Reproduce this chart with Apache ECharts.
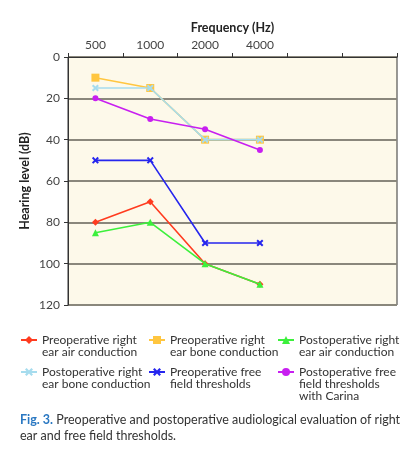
<!DOCTYPE html>
<html><head><meta charset="utf-8">
<script src="https://cdn.jsdelivr.net/npm/echarts@6/dist/echarts.min.js"></script>
<style>html,body{margin:0;padding:0;background:#fff}#c{width:414px;height:457px}</style>
</head><body><div id="c"></div>
<script>
const categories = ['500', '1000', '2000', '4000', '', ''];
const yTicks = [0, 20, 40, 60, 80, 100, 120];
const preAir = [80, 70, 100, 110];
const preBone = [10, 15, 40, 40];
const postAir = [85, 80, 100, 110];
const postBone = [15, 15, 40, 40];
const preFree = [50, 50, 90, 90];
const postFree = [20, 30, 35, 45];
const seriesNames = [
  'Preoperative right\near air conduction',
  'Preoperative right\near bone conduction',
  'Postoperative right\near air conduction',
  'Postoperative right\near bone conduction',
  'Preoperative free\nfield thresholds',
  'Postoperative free\nfield thresholds\nwith Carina'
];
const FONT = 'Lato';
const X = 'path://M0,2L2,0L5,3L8,0L10,2L7,5L10,8L8,10L5,7L2,10L0,8L3,5Z';
const colors = ['#ff3b1f', '#ffc640', '#3cf03c', '#a6dcee', '#2626ee', '#c81ff0'];
const symbols = ['diamond', 'rect', 'triangle', X, X, 'circle'];
const sizes = [7, 8, 7, 7, 7, 6];
const dataSets = [preAir, preBone, postAir, postBone, preFree, postFree];

const series = dataSets.map((d, i) => ({
  name: seriesNames[i], type: 'line', data: d,
  symbol: symbols[i], symbolSize: sizes[i],
  lineStyle: { color: colors[i], width: 1.6 },
  itemStyle: { color: colors[i] },
  z: 3 + i
}));

const LH = 12;
const legPos = [[20, 340], [148, 340], [277, 340], [20, 372], [148, 372], [277, 372]];
const legends = seriesNames.map((n, i) => {
  const lines = n.split('\n').length;
  return {
    data: [n], left: legPos[i][0], top: legPos[i][1] - (2 * lines - 1) * LH / 2,
    itemWidth: 16, itemHeight: 10, itemGap: 2, padding: 0,
    formatter: name => ' \n'.repeat(name.split('\n').length - 1) + name,
    textStyle: { fontFamily: FONT, fontSize: 12, color: '#333', lineHeight: LH }
  };
});

const chart = echarts.init(document.getElementById('c'), null, { renderer: 'canvas' });
chart.setOption({
  animation: false,
  backgroundColor: '#ffffff',
  grid: { left: 68, right: 17, top: 57, bottom: 152, show: true,
    backgroundColor: '#fdf9ea', borderColor: '#333', borderWidth: 1 },
  xAxis: {
    type: 'category', data: categories, position: 'top', boundaryGap: true,
    name: 'Frequency (Hz)', nameLocation: 'middle', nameGap: 23, nameMoveOverlap: false,
    nameTextStyle: { fontFamily: FONT, fontWeight: 'bold', fontSize: 12.5, color: '#222' },
    axisLine: { lineStyle: { color: '#333' } },
    axisTick: { show: true, length: 4, lineStyle: { color: '#333' } },
    axisLabel: { fontFamily: FONT, fontSize: 12, color: '#444', margin: 6, interval: 0 },
    splitLine: { show: false }
  },
  yAxis: {
    type: 'value', inverse: true, min: 0, max: 120, interval: 20,
    name: 'Hearing level (dB)', nameLocation: 'middle', nameGap: 37, nameMoveOverlap: false,
    nameTextStyle: { fontFamily: FONT, fontWeight: 'bold', fontSize: 12.5, color: '#222' },
    axisLine: { show: true, lineStyle: { color: '#333' } },
    axisTick: { show: true, length: 4, lineStyle: { color: '#333' } },
    axisLabel: { fontFamily: FONT, fontSize: 12, color: '#444', margin: 8,
      formatter: v => yTicks.includes(v) ? String(v) : '' },
    splitLine: { show: true, lineStyle: { color: '#8a877c', width: 1.8 } }
  },
  legend: legends,
  series: series,
  graphic: [{
    type: 'text', left: 20, top: 412,
    style: {
      text: '{b|Fig. 3.} Preoperative and postoperative audiological evaluation of right\near and free field thresholds.',
      fontFamily: FONT, fontSize: 12.5, fill: '#333', lineHeight: 16,
      rich: { b: { fontFamily: FONT, fontWeight: 'bold', fontSize: 12.5, fill: '#2a78c2' } }
    }
  }]
});
</script></body></html>
